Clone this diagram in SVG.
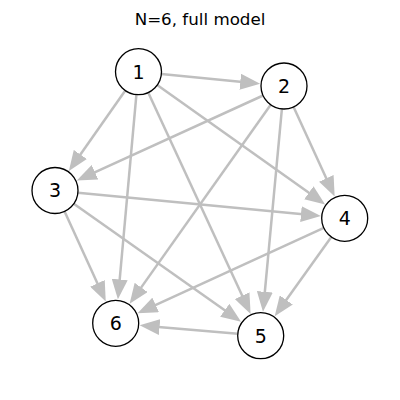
<svg xmlns="http://www.w3.org/2000/svg" width="400" height="400" viewBox="0 0 400 400">
<style>
.e{stroke:#bfbfbf;stroke-width:2.5;fill:none;marker-end:url(#ah)}
.n circle{fill:#fff;stroke:#000;stroke-width:1.3}
.n text{font-family:"DejaVu Sans",sans-serif;font-size:19px;text-anchor:middle;fill:#000}
.t{font-family:"DejaVu Sans",sans-serif;font-size:16.7px;text-anchor:middle;fill:#000}
</style>
<defs>
<marker id="ah" markerUnits="userSpaceOnUse" markerWidth="20" markerHeight="16" refX="10" refY="8" orient="auto" viewBox="0 0 20 16">
<path d="M0,0 L20,8 L0,16 z" fill="#bfbfbf"/>
</marker>
</defs>
<rect width="400" height="400" fill="#fff"/>
<text class="t" x="200" y="25">N=6, full model</text>
<g id="edges">
<line class="e" x1="161.4" y1="73.9" x2="250.2" y2="82.7"/>
<line class="e" x1="125.3" y1="90.5" x2="74.6" y2="162.7"/>
<line class="e" x1="157.2" y1="85.0" x2="317.0" y2="198.6"/>
<line class="e" x1="148.2" y1="92.6" x2="246.4" y2="304.8"/>
<line class="e" x1="136.4" y1="94.6" x2="118.8" y2="289.4"/>
<line class="e" x1="263.1" y1="95.5" x2="85.9" y2="176.4"/>
<line class="e" x1="293.6" y1="106.9" x2="330.5" y2="187.4"/>
<line class="e" x1="281.9" y1="108.9" x2="263.9" y2="301.8"/>
<line class="e" x1="270.7" y1="104.8" x2="135.4" y2="295.6"/>
<line class="e" x1="77.9" y1="192.7" x2="310.9" y2="215.1"/>
<line class="e" x1="73.8" y1="203.8" x2="232.9" y2="316.1"/>
<line class="e" x1="64.6" y1="211.4" x2="101.6" y2="292.4"/>
<line class="e" x1="331.3" y1="237.0" x2="280.5" y2="308.1"/>
<line class="e" x1="323.8" y1="227.9" x2="146.6" y2="309.1"/>
<line class="e" x1="237.8" y1="333.7" x2="149.6" y2="326.2"/>
</g>
<g id="n1" class="n"><circle cx="138.5" cy="71.7" r="23"/><text x="138.5" y="78.6">1</text></g>
<g id="n2" class="n"><circle cx="284" cy="86" r="23"/><text x="284" y="92.9">2</text></g>
<g id="n3" class="n"><circle cx="55" cy="190.5" r="23"/><text x="55" y="197.4">3</text></g>
<g id="n4" class="n"><circle cx="344.7" cy="218.3" r="23"/><text x="344.7" y="225.2">4</text></g>
<g id="n5" class="n"><circle cx="260.7" cy="335.7" r="23"/><text x="260.7" y="342.6">5</text></g>
<g id="n6" class="n"><circle cx="115.7" cy="323.3" r="23"/><text x="115.7" y="330.2">6</text></g>
</svg>
